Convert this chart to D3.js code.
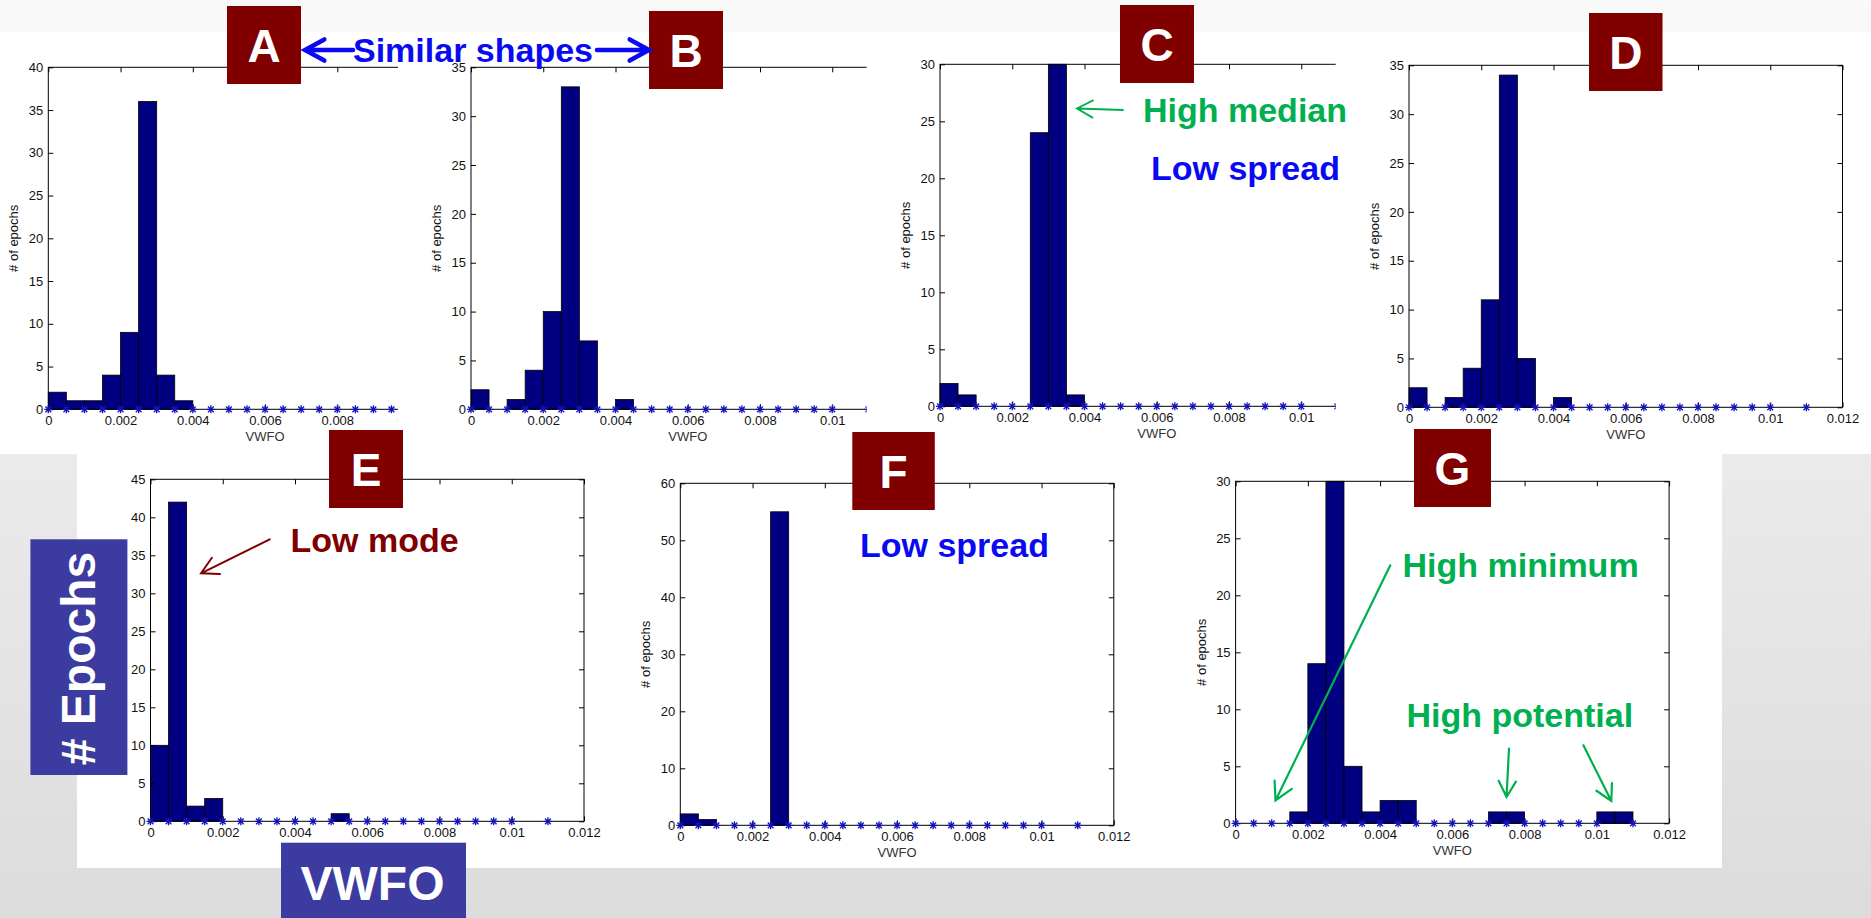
<!DOCTYPE html>
<html>
<head>
<meta charset="utf-8">
<script src="https://cdn.jsdelivr.net/npm/d3@7"></script>
<style>
  html, body { margin: 0; padding: 0; background: #fff; }
  svg { display: block; }
  text { font-family: "Liberation Sans", Arial, Helvetica, sans-serif; }
</style>
</head>
<body>
<svg id="slide" width="1871" height="918"></svg>
<script>
// histogram bins are 0.0005 wide, these are their left edges
const binStarts = [0, 0.0005, 0.001, 0.0015, 0.002, 0.0025, 0.003, 0.0035, 0.004, 0.0045, 0.005,
  0.0055, 0.006, 0.0065, 0.007, 0.0075, 0.008, 0.0085, 0.009, 0.0095, 0.01, 0.0105];
const BIN = 0.0005;

// the '*' markers along the x axis
const starPoints = [0, 0.0005, 0.001, 0.0015, 0.002, 0.0025, 0.003, 0.0035, 0.004, 0.0045, 0.005,
  0.0055, 0.006, 0.0065, 0.007, 0.0075, 0.008, 0.0085, 0.009, 0.0095, 0.01, 0.011];

const xTicks = [0, 0.002, 0.004, 0.006, 0.008, 0.01, 0.012];
const xTickLabels = ['0', '0.002', '0.004', '0.006', '0.008', '0.01', '0.012'];

// counts per bin (# of epochs)
const countsA = [2, 1, 1, 4, 9, 36, 4, 1, 0, 0, 0, 0, 0, 0, 0, 0, 0, 0, 0, 0, 0, 0];
const countsB = [2, 0, 1, 4, 10, 33, 7, 0, 1, 0, 0, 0, 0, 0, 0, 0, 0, 0, 0, 0, 0, 0];
const countsC = [2, 1, 0, 0, 0, 24, 30, 1, 0, 0, 0, 0, 0, 0, 0, 0, 0, 0, 0, 0, 0, 0];
const countsD = [2, 0, 1, 4, 11, 34, 5, 0, 1, 0, 0, 0, 0, 0, 0, 0, 0, 0, 0, 0, 0, 0];
const countsE = [10, 42, 2, 3, 0, 0, 0, 0, 0, 0, 1, 0, 0, 0, 0, 0, 0, 0, 0, 0, 0, 0];
const countsF = [2, 1, 0, 0, 0, 55, 0, 0, 0, 0, 0, 0, 0, 0, 0, 0, 0, 0, 0, 0, 0, 0];
const countsG = [0, 0, 0, 1, 14, 30, 5, 1, 2, 2, 0, 0, 0, 0, 1, 1, 0, 0, 0, 0, 1, 1];

const yTicksA = [0, 5, 10, 15, 20, 25, 30, 35, 40];
const yTicksB = [0, 5, 10, 15, 20, 25, 30, 35];
const yTicksC = [0, 5, 10, 15, 20, 25, 30];
const yTicksD = [0, 5, 10, 15, 20, 25, 30, 35];
const yTicksE = [0, 5, 10, 15, 20, 25, 30, 35, 40, 45];
const yTicksF = [0, 10, 20, 30, 40, 50, 60];
const yTicksG = [0, 5, 10, 15, 20, 25, 30];

const BLUE = '#0a0af2';
const GREEN = '#00b050';
const MAROON = '#800000';
const SLATE = '#3b3ba0';
const BAR = '#000080';

const AX_W = 433.5;
const AX_H = 342;

// where each screenshot sits on the slide; top row ones are cropped on the right
const panels = [
  { key: 'A', counts: countsA, yTicks: yTicksA, left: 48.3, top: 67.3, clip: [0, 398] },
  { key: 'B', counts: countsB, yTicks: yTicksB, left: 471, top: 67.3, clip: [400, 866.7] },
  { key: 'C', counts: countsC, yTicks: yTicksC, left: 940, top: 64.3, clip: [870, 1335.7] },
  { key: 'D', counts: countsD, yTicks: yTicksD, left: 1409, top: 65.3 },
  { key: 'E', counts: countsE, yTicks: yTicksE, left: 150.5, top: 479.3 },
  { key: 'F', counts: countsF, yTicks: yTicksF, left: 680.3, top: 483.3 },
  { key: 'G', counts: countsG, yTicks: yTicksG, left: 1235.6, top: 481.3 },
];

const labelBoxes = [
  { t: 'A', x: 227, y: 6, w: 74, h: 78 },
  { t: 'B', x: 649, y: 11, w: 74, h: 78 },
  { t: 'C', x: 1120, y: 5, w: 74, h: 78 },
  { t: 'D', x: 1589, y: 13, w: 73.5, h: 78 },
  { t: 'E', x: 329, y: 430, w: 74, h: 78 },
  { t: 'F', x: 852.3, y: 432, w: 82.5, h: 78 },
  { t: 'G', x: 1414, y: 429, w: 77, h: 78 },
];

const notes = [
  { text: 'Similar shapes', x: 353, y: 62, color: BLUE },
  { text: 'High median', x: 1143, y: 121.5, color: GREEN },
  { text: 'Low spread', x: 1151, y: 180, color: BLUE },
  { text: 'Low mode', x: 290.5, y: 552, color: MAROON },
  { text: 'Low spread', x: 860, y: 557, color: BLUE },
  { text: 'High minimum', x: 1402.5, y: 577, color: GREEN },
  { text: 'High potential', x: 1406.5, y: 727, color: GREEN },
];

const arrows = [
  { from: [353, 50], to: [305, 50], color: BLUE, w: 4.5, head: 22 },
  { from: [597, 50], to: [649, 50], color: BLUE, w: 4.5, head: 22 },
  { from: [1123, 110], to: [1077, 108.5], color: GREEN, w: 1.8, head: 18 },
  { from: [269.7, 539.3], to: [201, 573.3], color: MAROON, w: 2, head: 19 },
  { from: [1390.3, 565.3], to: [1275.5, 800.5], color: GREEN, w: 2.2, head: 20 },
  { from: [1509, 748.7], to: [1506.5, 797], color: GREEN, w: 2.2, head: 18 },
  { from: [1583.4, 745.3], to: [1611.3, 801], color: GREEN, w: 2.2, head: 18 },
];

const svg = d3.select('#slide');
const defs = svg.append('defs');

// slide background
const grad = defs.append('linearGradient').attr('id', 'bg').attr('x1', 0).attr('y1', 0).attr('x2', 0).attr('y2', 1);
grad.append('stop').attr('offset', '0%').attr('stop-color', '#f9f9f9');
grad.append('stop').attr('offset', '100%').attr('stop-color', '#dcdcdc');
svg.append('rect').attr('width', 1871).attr('height', 918).attr('fill', 'url(#bg)');
svg.append('rect').attr('x', 0).attr('y', 32).attr('width', 1871).attr('height', 422).attr('fill', '#fff');
svg.append('rect').attr('x', 77).attr('y', 450).attr('width', 1645).attr('height', 418).attr('fill', '#fff');

const starPath = (r) => {
  const q = r * 0.72;
  return `M${-r},0H${r}M0,${-r}V${r}M${-q},${-q}L${q},${q}M${-q},${q}L${q},${-q}`;
};

const drawPanel = (p) => {
  const x = d3.scaleLinear().domain([0, 0.012]).range([0, AX_W]);
  const y = d3.scaleLinear().domain([0, d3.max(p.yTicks)]).range([AX_H, 0]);

  let root = svg.append('g').attr('class', `panel-${p.key}`);
  if (p.clip) {
    defs.append('clipPath').attr('id', `clip-${p.key}`)
      .append('rect').attr('x', p.clip[0]).attr('y', 0)
      .attr('width', p.clip[1] - p.clip[0]).attr('height', 460);
    root = root.attr('clip-path', `url(#clip-${p.key})`);
  }
  const g = root.append('g').attr('transform', `translate(${p.left},${p.top})`);

  const bins = binStarts.map((b, i) => ({ x0: b, n: p.counts[i] })).filter(d => d.n > 0);
  g.selectAll('rect.bar')
    .data(bins)
    .enter()
    .append('rect')
    .attr('class', 'bar')
    .attr('x', d => x(d.x0))
    .attr('width', d => x(d.x0 + BIN) - x(d.x0))
    .attr('y', d => y(d.n))
    .attr('height', d => AX_H - y(d.n))
    .attr('fill', BAR)
    .attr('stroke', '#000')
    .attr('stroke-width', 0.8);

  const styleAxis = (sel) => {
    sel.select('.domain').remove();
    sel.selectAll('.tick line').attr('stroke', '#000');
    sel.selectAll('.tick text').attr('fill', '#111').style('font-size', '13px')
      .style('font-family', '"Liberation Sans", Arial, sans-serif');
  };

  g.append('g').attr('transform', `translate(0,${AX_H})`)
    .call(d3.axisBottom(x).tickValues(xTicks).tickFormat((d, i) => xTickLabels[i])
      .tickSize(-5).tickSizeOuter(0).tickPadding(6))
    .call(styleAxis);
  g.append('g')
    .call(d3.axisTop(x).tickValues(xTicks).tickFormat('').tickSize(-5).tickSizeOuter(0))
    .call(styleAxis);
  g.append('g')
    .call(d3.axisLeft(y).tickValues(p.yTicks).tickSize(-5).tickSizeOuter(0).tickPadding(5))
    .call(styleAxis);
  g.append('g').attr('transform', `translate(${AX_W},0)`)
    .call(d3.axisRight(y).tickValues(p.yTicks).tickFormat('').tickSize(-5).tickSizeOuter(0))
    .call(styleAxis);

  g.append('rect').attr('width', AX_W).attr('height', AX_H)
    .attr('fill', 'none').attr('stroke', '#000').attr('stroke-width', 1);

  g.selectAll('path.star')
    .data(starPoints)
    .enter()
    .append('path')
    .attr('class', 'star')
    .attr('d', starPath(4))
    .attr('transform', d => `translate(${x(d)},${y(0)})`)
    .attr('stroke', '#1414b4')
    .attr('stroke-width', 1.3)
    .attr('fill', 'none');

  g.append('text')
    .attr('x', AX_W / 2).attr('y', AX_H + 32)
    .attr('text-anchor', 'middle')
    .attr('fill', '#333').style('font-size', '13px')
    .text('VWFO');

  g.append('text')
    .attr('transform', `translate(-30,${AX_H / 2}) rotate(-90)`)
    .attr('text-anchor', 'middle')
    .attr('fill', '#111').style('font-size', '13px')
    .text('# of epochs');
};

panels.forEach(drawPanel);

// big axis captions
svg.append('rect').attr('x', 281).attr('y', 842.7).attr('width', 185).attr('height', 80).attr('fill', SLATE);
svg.append('text').attr('x', 372.5).attr('y', 899.5).attr('text-anchor', 'middle')
  .attr('fill', '#fff').style('font-size', '48px').style('font-weight', 'bold').text('VWFO');
svg.append('rect').attr('x', 30.4).attr('y', 539.3).attr('width', 97).attr('height', 235.7).attr('fill', SLATE);
svg.append('text').attr('transform', 'translate(95,658.5) rotate(-90)').attr('text-anchor', 'middle')
  .attr('fill', '#fff').style('font-size', '48px').style('font-weight', 'bold').text('# Epochs');

// panel letters
const boxes = svg.selectAll('g.lbl').data(labelBoxes).enter().append('g').attr('class', 'lbl');
boxes.append('rect')
  .attr('x', d => d.x).attr('y', d => d.y).attr('width', d => d.w).attr('height', d => d.h)
  .attr('fill', MAROON);
boxes.append('text')
  .attr('x', d => d.x + d.w / 2).attr('y', d => d.y + d.h / 2 + 16.5)
  .attr('text-anchor', 'middle').attr('fill', '#fff')
  .style('font-size', '46px').style('font-weight', 'bold')
  .text(d => d.t);

// annotations
svg.selectAll('text.note').data(notes).enter().append('text')
  .attr('class', 'note')
  .attr('x', d => d.x).attr('y', d => d.y)
  .attr('fill', d => d.color)
  .style('font-size', '34px').style('font-weight', 'bold')
  .text(d => d.text);

const arrowPath = (a) => {
  const [x0, y0] = a.from;
  const [x1, y1] = a.to;
  const ang = Math.atan2(y0 - y1, x0 - x1);
  const spread = 0.5;
  const h1 = [x1 + a.head * Math.cos(ang + spread), y1 + a.head * Math.sin(ang + spread)];
  const h2 = [x1 + a.head * Math.cos(ang - spread), y1 + a.head * Math.sin(ang - spread)];
  return `M${x0},${y0}L${x1},${y1}M${h1[0]},${h1[1]}L${x1},${y1}L${h2[0]},${h2[1]}`;
};

svg.selectAll('path.arrow').data(arrows).enter().append('path')
  .attr('class', 'arrow')
  .attr('d', arrowPath)
  .attr('fill', 'none')
  .attr('stroke', d => d.color)
  .attr('stroke-width', d => d.w)
  .attr('stroke-linecap', 'round')
  .attr('stroke-linejoin', 'miter');
</script>
</body>
</html>
